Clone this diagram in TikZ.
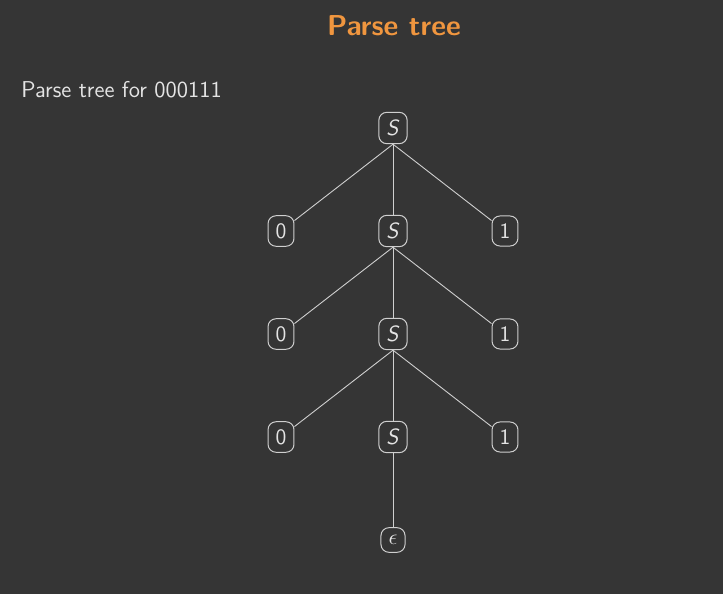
\documentclass[tikz,border=0pt]{standalone}
\usepackage{fontspec}
\usepackage{tikz}
\usetikzlibrary{positioning}
\definecolor{slidebg}{HTML}{353535}
\definecolor{slidefg}{HTML}{E4E4E4}
\definecolor{treeline}{HTML}{CFCFCF}
\definecolor{titleorange}{HTML}{F0963F}

\begin{document}
\begin{tikzpicture}[
node distance=51.5pt and 56pt, on grid,
  title/.style = {font=\sffamily\bfseries\fontsize{14.4}{17}\selectfont,
                  text=titleorange, inner sep=0pt},
   body/.style = {font=\sffamily\fontsize{11.45}{13}\selectfont,
                  text=slidefg, inner sep=0pt},
    sym/.style = {rectangle, rounded corners=4pt, draw=treeline,% symbols of the tree
                  line width=0.5pt, inner sep=3.8pt, text=slidefg,
                  font=\sffamily\fontsize{11}{13}\selectfont},
   edge/.style = {draw=treeline, line width=0.45pt},
                        ]
% slide background, fixes the size
\fill[slidebg] (0,0) rectangle (361.5pt,-297pt);
\useasboundingbox (0,0) rectangle (361.5pt,-297pt);
\node[title, anchor=base] (head) at (197pt,-17.5pt) {Parse tree};
\node[body, anchor=base west] (caption) at (10.5pt,-48.7pt) {Parse tree for 000111};
% the tree
\node[sym] (s1) at (196.5pt,-64pt) {\textit{S}};
\foreach \i [count=\j from 2] in {1,2,3}% <-- one level per step
{
    \node[sym, below=of s\i] (s\j) {\textit{S}};
    \node[sym, left=of s\j]  (z\j) {0};
    \node[sym, right=of s\j] (o\j) {1};
    \draw[edge] (s\i.south) -- (z\j);
    \draw[edge] (s\i.south) -- (s\j);
    \draw[edge] (s\i.south) -- (o\j);
}
\node[sym, below=of s4] (eps) {$\epsilon$};
\draw[edge] (s4.south) -- (eps);
\end{tikzpicture}
\end{document}
